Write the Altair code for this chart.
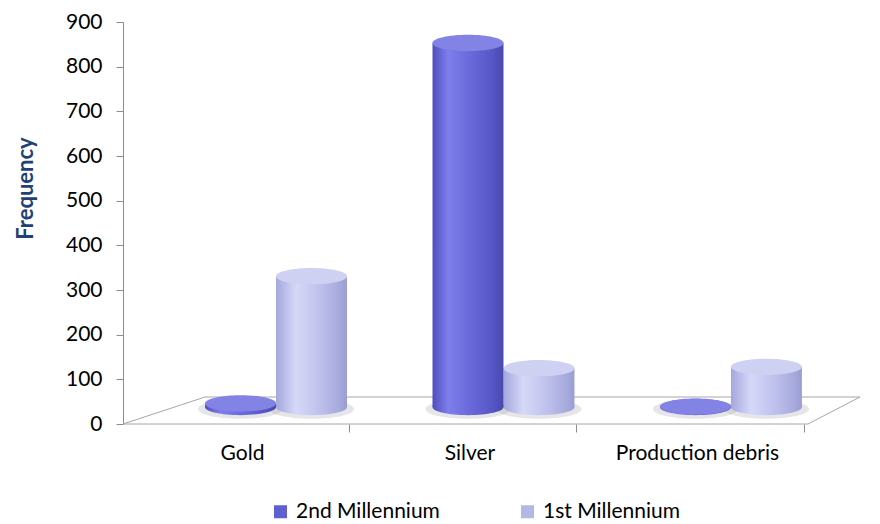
import altair as alt
import pandas as pd

# ---- data ----
categories = ["Gold", "Silver", "Production debris"]
series = ["2nd Millennium", "1st Millennium"]
second_millennium = [8, 815, 1]
first_millennium = [293, 87, 90]
y_ticks = [0, 100, 200, 300, 400, 500, 600, 700, 800, 900]

rows = []
for i, c in enumerate(categories):
    rows.append({"category": c, "series": series[0], "value": second_millennium[i]})
    rows.append({"category": c, "series": series[1], "value": first_millennium[i]})
df = pd.DataFrame(rows)

FONT = "Lato"
BASE = -17          # lift of the cylinders onto the 3-D floor (px)
W = 71              # cylinder width in px (sub-band width)
ELLIPSE = "M-1,0A1,0.23 0 1,0 1,0A1,0.23 0 1,0 -1,0Z"
AXIS_GREY = "#8c8c8c"

x_enc = alt.X(
    "category:N",
    sort=categories,
    scale=alt.Scale(paddingInner=0.376, paddingOuter=0.308, align=0.5855),
    axis=alt.Axis(
        title=None, domain=False, labelAngle=0, labelFont=FONT, labelFontSize=21,
        labelColor="#000000", labelPadding=10, tickColor=AXIS_GREY, tickSize=8,
        tickOffset=73, labelOffset=-107,
    ),
)
xo_enc = alt.XOffset(
    "series:N", sort=series,
    scale=alt.Scale(domain=series, paddingInner=0, paddingOuter=0),
)
y_enc = alt.Y(
    "value:Q",
    scale=alt.Scale(domain=[0, 900], nice=False),
    axis=alt.Axis(
        values=y_ticks, title="Frequency", grid=False, domainColor=AXIS_GREY,
        tickColor=AXIS_GREY, tickSize=7, labelFont=FONT, labelFontSize=21,
        labelColor="#000000", labelPadding=14, titleFont=FONT, titleFontSize=22,
        titleFontWeight="bold", titleColor="#1F4275", titleX=-98, titleY=166,
        titleBaseline="middle", titleAlign="center",
    ),
)


def grad(stops):
    return alt.LinearGradient(
        gradient="linear",
        stops=[alt.GradientStop(color=c, offset=o) for o, c in stops],
        x1=0, x2=1, y1=0, y2=0,
    )


styles = {
    "2nd Millennium": {
        "body": grad([(0, "#4e4ebc"), (0.22, "#7e7eec"), (0.5, "#6b6bdc"),
                      (0.85, "#5656c6"), (1, "#4848ac")]),
        "top": "#8283e4",
    },
    "1st Millennium": {
        "body": grad([(0, "#a4a7dc"), (0.28, "#d6d8f8"), (0.6, "#c0c2ee"),
                      (0.9, "#a6a9dc"), (1, "#9a9dd2")]),
        "top": "#cfd1f3",
    },
}

layers = []

# 3-D floor outline (frame decoration)
one = pd.DataFrame({"k": [0]})
floor_col = "#a6a6a6"
for (xa, ya, xb, yb) in [(0, 402, 685, 402), (685, 402, 737, 375),
                         (82, 375, 737, 375), (0, 402, 82, 375)]:
    layers.append(
        alt.Chart(one).mark_rule(color=floor_col, strokeWidth=1).encode(
            x=alt.value(xa), x2=alt.value(xb), y=alt.value(ya), y2=alt.value(yb)
        )
    )

# shadows on floor
for s in ["1st Millennium", "2nd Millennium"]:
    layers.append(
        alt.Chart(df).transform_filter(alt.datum.series == s).mark_point(
            shape=ELLIPSE, filled=True, size=(W + 14) ** 2, color="#9a9aa8",
            opacity=0.25, yOffset=BASE + 2, strokeWidth=0,
        ).encode(x=x_enc, xOffset=xo_enc, y=alt.datum(0))
    )

# cylinders: 1st first, 2nd drawn over
for s in ["1st Millennium", "2nd Millennium"]:
    st = styles[s]
    base = alt.Chart(df).transform_filter(alt.datum.series == s)
    layers.append(
        base.mark_point(shape=ELLIPSE, filled=True, size=W * W, color=st["body"],
                        opacity=1, yOffset=BASE, strokeWidth=0)
        .encode(x=x_enc, xOffset=xo_enc, y=alt.datum(0))
    )
    layers.append(
        base.mark_bar(color=st["body"], yOffset=BASE, y2Offset=BASE)
        .encode(x=x_enc, xOffset=xo_enc, y=y_enc, y2=alt.datum(0))
    )
    layers.append(
        base.mark_point(shape=ELLIPSE, filled=True, size=W * W, color=st["top"],
                        opacity=1, yOffset=BASE, strokeWidth=0)
        .encode(x=x_enc, xOffset=xo_enc, y=y_enc)
    )

# legend carrier
layers.append(
    alt.Chart(df).mark_square(opacity=0, size=1).encode(
        x=x_enc, xOffset=xo_enc, y=y_enc,
        color=alt.Color(
            "series:N", sort=series,
            scale=alt.Scale(domain=series, range=["#5f5fcf", "#b4b6e6"]),
            legend=alt.Legend(
                orient="none", legendX=147, legendY=479, direction="horizontal",
                title=None, symbolType="square", symbolSize=169, symbolOpacity=1,
                symbolStrokeWidth=0, labelFont=FONT, labelFontSize=21,
                labelColor="#000000", labelOffset=5, columnPadding=77, padding=0,
            ),
        ),
    )
)

chart = alt.layer(*layers).properties(
    width=737, height=402,
    autosize=alt.AutoSizeParams(type="none"),
    padding={"left": 123, "top": 22, "right": 20, "bottom": 100},
    background="white",
).configure_view(stroke=None)

chart.save("out.html", embed_options={"renderer": "svg", "actions": False})
